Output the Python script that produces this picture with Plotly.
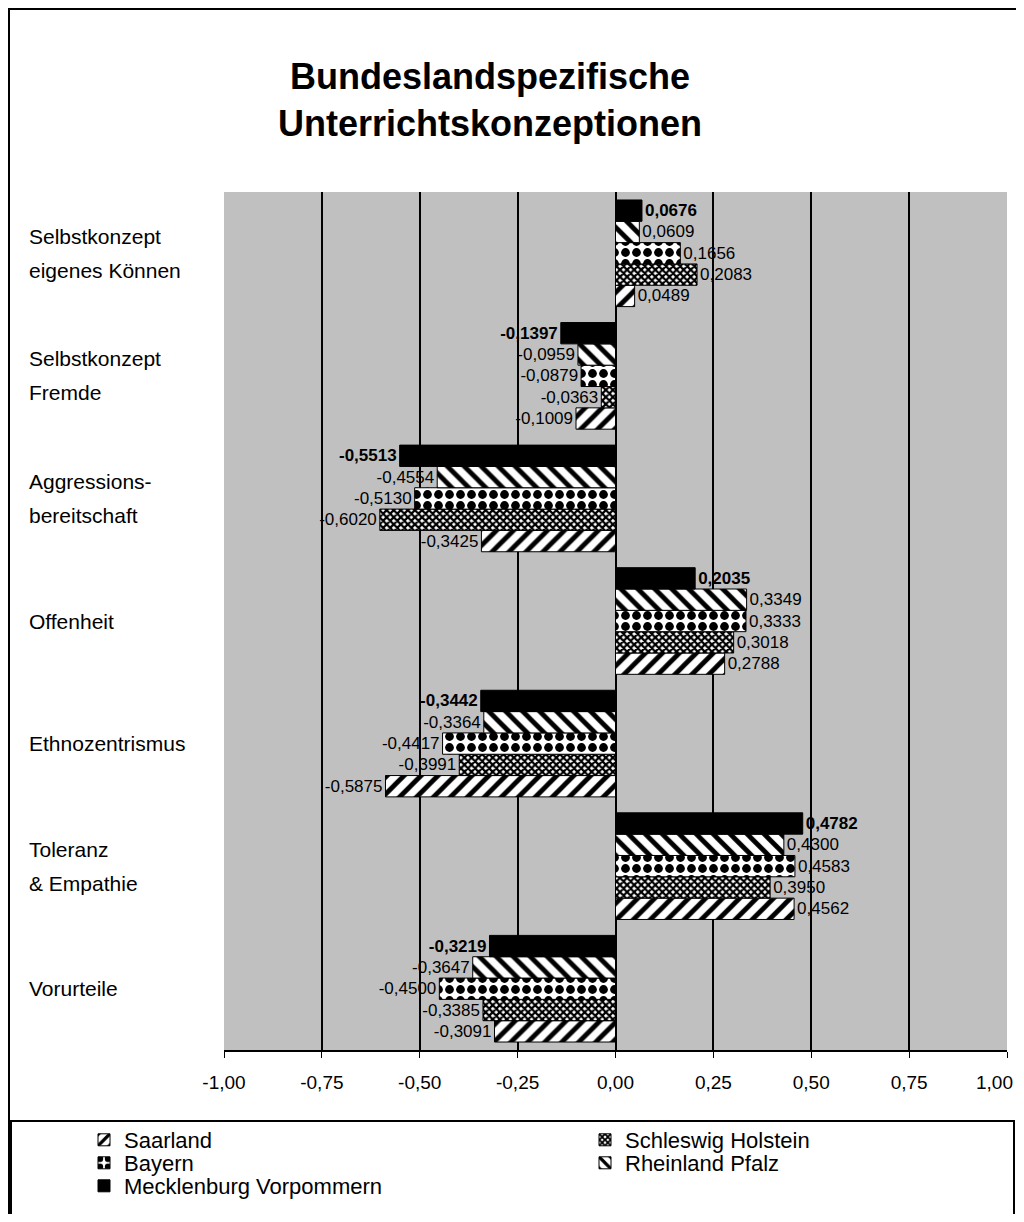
import plotly.graph_objects as go

categories = [
    "Selbstkonzept<br>eigenes Können",
    "Selbstkonzept<br>Fremde",
    "Aggressions-<br>bereitschaft",
    "Offenheit",
    "Ethnozentrismus",
    "Toleranz<br>& Empathie",
    "Vorurteile",
]

saarland = [0.0489, -0.1009, -0.3425, 0.2788, -0.5875, 0.4562, -0.3091]
schleswig_holstein = [0.2083, -0.0363, -0.6020, 0.3018, -0.3991, 0.3950, -0.3385]
bayern = [0.1656, -0.0879, -0.5130, 0.3333, -0.4417, 0.4583, -0.4500]
rheinland_pfalz = [0.0609, -0.0959, -0.4554, 0.3349, -0.3364, 0.4300, -0.3647]
mecklenburg = [0.0676, -0.1397, -0.5513, 0.2035, -0.3442, 0.4782, -0.3219]

tick_vals = [-1.0, -0.75, -0.5, -0.25, 0.0, 0.25, 0.5, 0.75, 1.0]
tick_text = ["-1,00", "-0,75", "-0,50", "-0,25", "0,00", "0,25", "0,50", "0,75", "1,00"]

# The page body has an 8px margin on every side: work in page pixel coordinates
# and keep the figure inside the 1024x1222 window so nothing scrolls.
OFF = 8
PAGE_W, PAGE_H = 1024, 1222
W, H = PAGE_W - 2 * OFF, PAGE_H - 2 * OFF
FIG_X1, FIG_Y1 = OFF + W, OFF + H
PLOT_X0, PLOT_X1, PLOT_Y0, PLOT_Y1 = 224, 1007, 192, 1050  # page px
L, R = PLOT_X0 - OFF, FIG_X1 - PLOT_X1
T, B = PLOT_Y0 - OFF, FIG_Y1 - PLOT_Y1
PW, PH = PLOT_X1 - PLOT_X0, PLOT_Y1 - PLOT_Y0


def px(x):
    return (x - PLOT_X0) / PW


def py(y):
    return (PLOT_Y1 - y) / PH


SANS = "Liberation Sans, Arial, sans-serif"


def fmt(v):
    return f"{v:.4f}".replace(".", ",")


series = [
    ("Saarland", saarland, dict(shape="/", size=12, solidity=0.4), False, "legend", (84, 1140)),
    ("Schleswig Holstein", schleswig_holstein, dict(shape="x", size=5, solidity=0.7), False, "legend2", (585, 1140)),
    ("Bayern", bayern, dict(shape=".", size=11, solidity=0.5), False, "legend3", (84, 1163)),
    ("Rheinland Pfalz", rheinland_pfalz, dict(shape="\\", size=12, solidity=0.4), False, "legend4", (585, 1163)),
    ("Mecklenburg Vorpommern", mecklenburg, None, True, "legend5", (84, 1186)),
]

legend_common = dict(
    orientation="v", xanchor="left", yanchor="middle", traceorder="normal",
    font=dict(family=SANS, size=22, color="black"),
    bgcolor="rgba(0,0,0,0)", itemwidth=30, tracegroupgap=0,
)

fig = go.Figure()
legends = {}
for name, vals, pat, bold, leg, (lx, ly) in series:
    marker = dict(line=dict(color="black", width=1))
    if pat is None:
        marker["color"] = "black"
    else:
        marker["color"] = "white"
        marker["pattern"] = dict(fgcolor="black", bgcolor="white", fillmode="replace", **pat)
    texts = [("<b>%s</b>" % fmt(v)) if bold else fmt(v) for v in vals]
    fig.add_trace(go.Bar(
        y=categories, x=vals, name=name, orientation="h",
        marker=marker, text=texts, textposition="outside",
        textfont=dict(family=SANS, size=17, color="black"),
        constraintext="none", cliponaxis=False, legend=leg,
    ))
    legends[leg] = dict(x=px(lx), y=py(ly), **legend_common)

fig.update_layout(
    width=W, height=H,
    margin=dict(l=L, r=R, t=T, b=B, autoexpand=False),
    paper_bgcolor="white", plot_bgcolor="#c0c0c0",
    barmode="group", bargap=0.13, bargroupgap=0,
    showlegend=True,
    font=dict(family=SANS, color="black"),
    **legends,
)

fig.add_annotation(
    xref="paper", yref="paper", x=px(490), y=py(100),
    text="<b>Bundeslandspezifische<br>Unterrichtskonzeptionen</b>",
    xanchor="center", yanchor="middle", align="center", showarrow=False,
    font=dict(family=SANS, size=36, color="black"),
)

TICK_FONT = dict(family=SANS, size=19, color="black")
# the last tick label sits at the window edge: draw it right-aligned so it stays whole
axis_text = tick_text[:-1] + [""]
fig.update_xaxes(
    range=[-1, 1], tickvals=tick_vals, ticktext=axis_text,
    showgrid=True, gridcolor="black", gridwidth=1.5,
    zeroline=True, zerolinecolor="black", zerolinewidth=1.5,
    showline=True, linecolor="black", linewidth=1.5,
    ticks="outside", ticklen=6, tickcolor="black", ticklabelstandoff=8,
    tickfont=TICK_FONT,
)
fig.add_annotation(
    xref="paper", yref="paper", x=px(FIG_X1 - 1), y=py(1082),
    text=tick_text[-1], xanchor="right", yanchor="middle", showarrow=False,
    font=TICK_FONT,
)
fig.update_yaxes(
    categoryorder="array", categoryarray=categories[::-1],
    showticklabels=False, showgrid=False, zeroline=False,
)

LINE = 34
for c in categories:
    lines = c.split("<br>")
    n = len(lines)
    for i, ln in enumerate(lines):
        fig.add_annotation(
            xref="paper", yref="y", x=px(27), y=c, text=ln,
            xanchor="left", yanchor="middle", align="left", showarrow=False,
            yshift=((n - 1) / 2 - i) * LINE,
            font=dict(family=SANS, size=21, color="black"),
        )

# outer chart frame
fig.add_shape(type="rect", xref="paper", yref="paper",
              x0=px(OFF + 1), x1=px(FIG_X1 + 4), y0=py(FIG_Y1 + 4), y1=py(OFF + 1),
              line=dict(color="black", width=2), layer="below")
# legend frame
fig.add_shape(type="rect", xref="paper", yref="paper",
              x0=px(11), x1=px(FIG_X1 - 2), y0=py(FIG_Y1 + 4), y1=py(1121),
              line=dict(color="black", width=2), layer="below")

fig.write_html("out.html")
